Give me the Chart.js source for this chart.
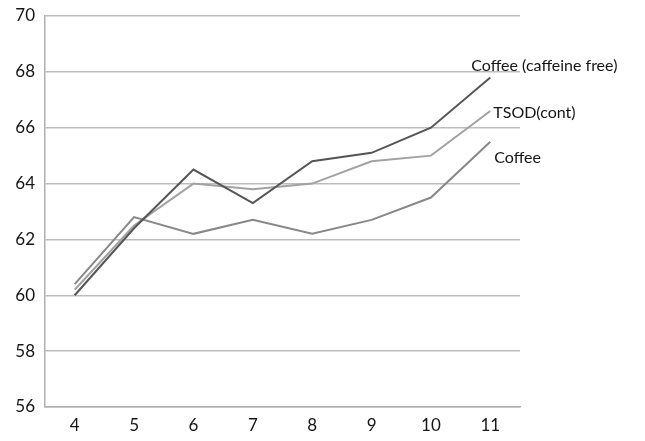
<!DOCTYPE html>
<html>
<head>
<meta charset="utf-8">
<script src="https://cdn.jsdelivr.net/npm/chart.js@4.4.0/dist/chart.umd.min.js"></script>
<style>
  html, body { margin: 0; padding: 0; background: #fff; }
  #wrap { width: 645px; height: 441px; position: relative; }
</style>
</head>
<body>
<div id="wrap"><canvas id="myChart"></canvas></div>
<script>
let weeks = ["4", "5", "6", "7", "8", "9", "10", "11"];
let caffeineFree = [60.0, 62.4, 64.5, 63.3, 64.8, 65.1, 66.0, 67.8];
let tsodCont = [60.2, 62.5, 64.0, 63.8, 64.0, 64.8, 65.0, 66.6];
let coffee = [60.4, 62.8, 62.2, 62.7, 62.2, 62.7, 63.5, 65.5];
let seriesNames = ["Coffee (caffeine free)", "TSOD(cont)", "Coffee"];

// labels at the end of each line, nudged like in the original
let labelNudge = [[-19, -12], [3, 2], [4, 16]];

const endLabels = {
    id: 'endLabels',
    afterDatasetsDraw(chart) {
        let ctx = chart.ctx;
        ctx.save();
        ctx.font = '16px Lato';
        ctx.fillStyle = '#151515';
        ctx.textBaseline = 'middle';
        chart.data.datasets.forEach((ds, i) => {
            let meta = chart.getDatasetMeta(i);
            let pt = meta.data[meta.data.length - 1];
            ctx.fillText(ds.label, pt.x + labelNudge[i][0], pt.y + labelNudge[i][1]);
        });
        ctx.restore();
    }
};

const ctx = document.getElementById('myChart').getContext('2d');
const myChart = new Chart(ctx, {
    type: 'line',
    data: {
        labels: weeks,
        datasets: [{
            label: seriesNames[0],
            data: caffeineFree,
            borderColor: '#555555',
            borderWidth: 2,
            pointRadius: 0,
            tension: 0
        }, {
            label: seriesNames[1],
            data: tsodCont,
            borderColor: '#a2a2a2',
            borderWidth: 2,
            pointRadius: 0,
            tension: 0
        }, {
            label: seriesNames[2],
            data: coffee,
            borderColor: '#888888',
            borderWidth: 2,
            pointRadius: 0,
            tension: 0
        }]
    },
    options: {
        responsive: true,
        maintainAspectRatio: false,
        animation: false,
        layout: { padding: { top: 16, right: 125, bottom: 0, left: 0 } },
        plugins: {
            legend: { display: false },
            tooltip: { enabled: false }
        },
        scales: {
            x: {
                offset: true,
                grid: { display: false, drawTicks: false },
                border: { color: '#b0b0b0', width: 1.5 },
                ticks: { color: '#151515', font: { family: 'Lato', size: 17 }, padding: 8, maxRotation: 0 },
                afterFit: s => { s.height = 34; s.paddingLeft = 0; s.paddingRight = 0; }
            },
            y: {
                min: 56,
                max: 70,
                ticks: { stepSize: 2, color: '#151515', font: { family: 'Lato', size: 17 }, padding: 10 },
                grid: { color: '#bdbdbd', lineWidth: 1.5, drawTicks: false },
                border: { color: '#b0b0b0', width: 1.5 },
                afterFit: s => { s.width = 45; s.paddingTop = 0; s.paddingBottom = 0; }
            }
        }
    },
    plugins: [endLabels]
});
</script>
</body>
</html>
